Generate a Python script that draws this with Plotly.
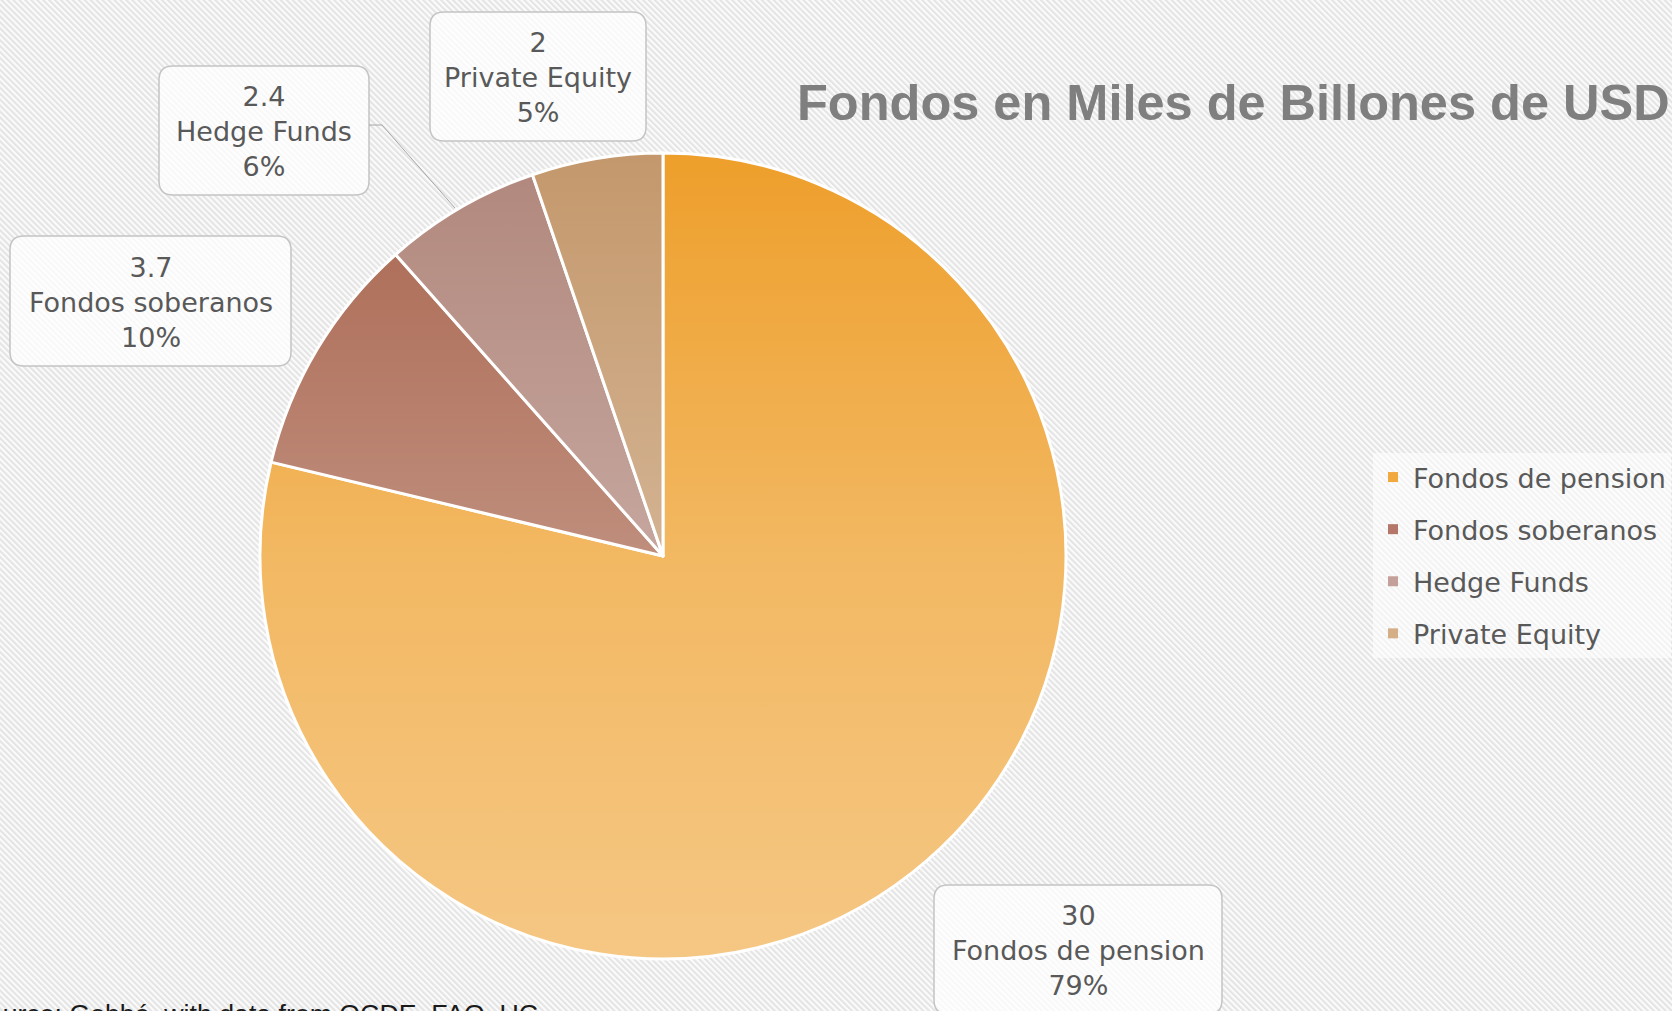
import base64
import plotly.graph_objects as go

W, H = 1672, 1011

categories = ["Fondos de pension", "Fondos soberanos", "Hedge Funds", "Private Equity"]
values = [30, 3.7, 2.4, 2]
slice_colors = ["#EE9F2B", "#A9664F", "#B1877C", "#C4986C"]
legend_colors = ["#F0A83F", "#B5776A", "#C4A09A", "#D4AE86"]
title_text = "Fondos en Miles de Billones de USD"
source_text = "Source: Gobbé, with data from OCDE, FAO, UC"

# layout in pixels (figure is drawn with zero margins)
CX, CY, R = 663, 556, 403
BOXES = [(934, 885, 1222, 1014), (10, 236, 291, 366),
         (159, 66, 369, 195), (430, 12, 646, 141)]
LEADER = [(369, 125), (382, 125), (455, 208)]   # hedge funds callout line

TEXT = "#595959"
FONT = "DejaVu Sans"


def px(x):
    return x / W


def py(y):
    return 1 - y / H


def svg_uri(svg):
    return "data:image/svg+xml;base64," + base64.b64encode(svg.encode()).decode()


def rounded_box(x0, y0, x1, y1, r=14):
    return (f"M {px(x0 + r)},{py(y0)} L {px(x1 - r)},{py(y0)} "
            f"Q {px(x1)},{py(y0)} {px(x1)},{py(y0 + r)} L {px(x1)},{py(y1 - r)} "
            f"Q {px(x1)},{py(y1)} {px(x1 - r)},{py(y1)} L {px(x0 + r)},{py(y1)} "
            f"Q {px(x0)},{py(y1)} {px(x0)},{py(y1 - r)} L {px(x0)},{py(y0 + r)} "
            f"Q {px(x0)},{py(y0)} {px(x0 + r)},{py(y0)} Z")


# diagonal-stripe paper, like the Excel chart area fill
_STRIPES = (
    f"<svg xmlns='http://www.w3.org/2000/svg' width='{W}' height='{H}'>"
    "<defs><pattern id='p' width='4.2' height='4.2' patternUnits='userSpaceOnUse' "
    "patternTransform='rotate(-45)'>"
    "<rect width='4.2' height='4.2' fill='#FBFBFB'/>"
    "<rect width='2.1' height='4.2' fill='#E4E4E4'/></pattern></defs>"
    "<rect width='100%' height='100%' fill='url(#p)'/></svg>"
)
# top-to-bottom lightening of the pie (gradient fill)
_SHEEN = (
    "<svg xmlns='http://www.w3.org/2000/svg' width='400' height='400' "
    "viewBox='0 0 100 100' preserveAspectRatio='none'>"
    "<defs><linearGradient id='g' x1='0' y1='0' x2='0' y2='1'>"
    "<stop offset='0' stop-color='#fff' stop-opacity='0'/>"
    "<stop offset='0.5' stop-color='#fff' stop-opacity='0.26'/>"
    "<stop offset='1' stop-color='#fff' stop-opacity='0.42'/></linearGradient></defs>"
    "<circle cx='50' cy='50' r='50' fill='url(#g)'/></svg>"
)

fig = go.Figure()

fig.add_trace(go.Pie(
    labels=categories, values=values, sort=False, direction="clockwise",
    rotation=0, textinfo="none", hoverinfo="label+value+percent",
    marker=dict(colors=slice_colors, line=dict(color="white", width=3)),
    domain=dict(x=[px(CX - R), px(CX + R)], y=[py(CY + R), py(CY - R)]),
    showlegend=False,
))

# legend entries (one group each so the row spacing can be opened up)
for i, (cat, col) in enumerate(zip(categories, legend_colors)):
    fig.add_trace(go.Scatter(
        x=[None], y=[None], mode="markers", name=cat, legendgroup=f"g{i}",
        marker=dict(symbol="square", size=10, color=col),
    ))

total = sum(values)
shapes, annotations = [], []
for (x0, y0, x1, y1), cat, v in zip(BOXES, categories, values):
    shapes.append(dict(type="path", path=rounded_box(x0, y0, x1, y1),
                       xref="paper", yref="paper", fillcolor="rgba(255,255,255,0.75)",
                       line=dict(color="#C4C4C4", width=1.5), layer="above"))
    annotations.append(dict(
        x=px((x0 + x1) / 2), y=py((y0 + y1) / 2 + 1), xref="paper", yref="paper",
        xanchor="center", yanchor="middle",
        text=f"{v:g}<br>{cat}<br>{round(v / total * 100)}%", showarrow=False,
        font=dict(family=FONT, size=27, color=TEXT), align="center",
    ))

lead = "M " + " L ".join(f"{px(x)},{py(y)}" for x, y in LEADER)
shapes.append(dict(type="path", path=lead, xref="paper", yref="paper",
                   line=dict(color="#A6A6A6", width=1)))

annotations.append(dict(
    x=px(795), y=py(102), xref="paper", yref="paper", xanchor="left", yanchor="middle",
    text=f"<b>{title_text}</b>", showarrow=False,
    font=dict(family="Liberation Sans", size=50.5, color="#7F7F7F"),
))
annotations.append(dict(
    x=px(-32), y=py(1014), xref="paper", yref="paper", xanchor="left", yanchor="middle",
    text=source_text, showarrow=False,
    font=dict(family="Liberation Sans", size=26.7, color="#1A1A1A"),
))

fig.update_layout(
    width=W, height=H, margin=dict(l=0, r=0, t=0, b=0),
    paper_bgcolor="white", plot_bgcolor="rgba(0,0,0,0)",
    xaxis=dict(visible=False), yaxis=dict(visible=False),
    shapes=shapes, annotations=annotations,
    images=[
        dict(source=svg_uri(_STRIPES), xref="paper", yref="paper", x=0, y=1,
             sizex=1, sizey=1, sizing="stretch", xanchor="left", yanchor="top",
             layer="below"),
        dict(source=svg_uri(_SHEEN), xref="paper", yref="paper",
             x=px(CX - R), y=py(CY - R), sizex=2 * R / W, sizey=2 * R / H,
             sizing="stretch", xanchor="left", yanchor="top", layer="above"),
    ],
    legend=dict(x=px(1373), y=py(453), xanchor="left", yanchor="top",
                bgcolor="rgba(255,255,255,0.55)", tracegroupgap=14,
                font=dict(family=FONT, size=27, color=TEXT)),
)

fig.write_html("out.html", config={"displayModeBar": False},
               post_script="document.body.style.margin='0';")
